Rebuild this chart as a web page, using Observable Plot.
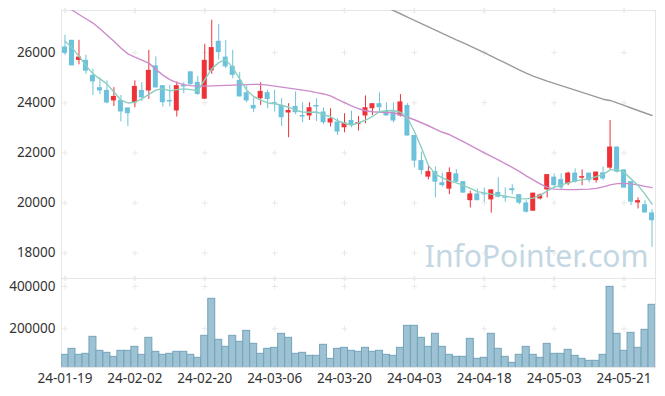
<!DOCTYPE html>
<html>
<head>
<meta charset="utf-8">
<script src="https://cdn.jsdelivr.net/npm/d3@7"></script>
<script src="https://cdn.jsdelivr.net/npm/@observablehq/plot@0.6"></script>
<style>
  html, body { margin: 0; padding: 0; background: #fff; }
  #chart { width: 665px; height: 396px; overflow: hidden; }
  #chart svg { display: block; }
</style>
</head>
<body>
<div id="chart"></div>
<script>
const dates = ["24-01-19","24-01-22","24-01-23","24-01-24","24-01-25","24-01-26","24-01-29","24-01-30","24-01-31","24-02-01",
"24-02-02","24-02-05","24-02-06","24-02-07","24-02-08","24-02-13","24-02-14","24-02-15","24-02-16","24-02-19",
"24-02-20","24-02-21","24-02-22","24-02-23","24-02-26","24-02-27","24-02-28","24-02-29","24-03-04","24-03-05",
"24-03-06","24-03-07","24-03-08","24-03-11","24-03-12","24-03-13","24-03-14","24-03-15","24-03-18","24-03-19",
"24-03-20","24-03-21","24-03-22","24-03-25","24-03-26","24-03-27","24-03-28","24-03-29","24-04-01","24-04-02",
"24-04-03","24-04-04","24-04-05","24-04-08","24-04-09","24-04-11","24-04-12","24-04-15","24-04-16","24-04-17",
"24-04-18","24-04-19","24-04-22","24-04-23","24-04-24","24-04-25","24-04-26","24-04-29","24-04-30","24-05-02",
"24-05-03","24-05-07","24-05-08","24-05-09","24-05-10","24-05-13","24-05-14","24-05-16","24-05-17","24-05-20",
"24-05-21","24-05-22","24-05-23","24-05-24","24-05-27"];

const opens = [26220,26490,25690,25690,25090,24600,24490,24070,24090,23790,
24000,24490,24470,25470,24680,24090,23670,24690,25230,24810,
24140,25270,26450,25820,25450,24890,24400,23890,24160,24400,
24000,23890,23590,23850,23490,23470,23890,23630,23190,23230,
23000,23290,23130,23470,23760,23960,23650,23630,23470,23890,
22690,21690,21030,21250,20810,20550,21160,20850,20090,20360,
20360,20120,20420,20250,20570,20330,20000,19670,20160,20520,
21030,20930,20760,21190,20990,21190,20890,21200,21390,22230,
21320,20850,20000,19930,19600];

const highs = [26690,26490,26490,25900,25340,24990,24870,24600,24290,23790,
24870,24800,26090,25830,24680,24690,24830,24790,25250,25050,
26330,27290,27130,26490,26090,25200,24670,24190,24800,24490,
24490,24160,23960,24430,24000,24000,24160,23790,23760,23360,
23560,23660,23450,24270,23960,24390,23990,23990,24330,23960,
22690,22030,21450,21430,21190,21400,21330,20850,20470,20560,
20600,20520,21000,20600,20730,20330,20090,20390,20360,21130,
21160,21160,21230,21360,21320,21190,21230,21430,23290,22230,
21320,20850,20200,20090,19730];

const lows = [25900,25470,25510,25130,24290,24320,23950,23850,23230,23050,
23800,24050,24130,24590,23830,23830,23430,24360,24690,24290,
24140,25130,25710,25360,24960,24230,24000,23600,23890,23760,
23630,23050,22600,23520,23200,23290,23250,23120,23030,22690,
22800,23000,22870,23160,23490,23630,23470,23200,23430,22670,
21400,21120,20920,20200,20630,20330,20800,20390,19800,20090,
20030,19590,20200,20030,20330,19930,19590,19670,20120,20200,
20600,20490,20690,20790,20690,20790,20790,20890,21320,21190,
20590,19890,19760,19600,18230];

const closes = [25970,25470,25820,25260,24830,24470,23990,24250,23630,23560,
24650,24190,25290,24590,24000,24030,24680,24630,24730,24330,
25690,26200,26000,25430,25090,24230,24070,23750,24450,24130,
23950,23400,23690,23600,23430,23800,23830,23200,23360,22830,
23190,23090,23210,23800,23960,23800,23470,23270,24030,22670,
21670,21290,21250,20830,20690,21210,20830,20390,20360,20090,
20320,20520,20230,20190,20490,19990,19630,20390,20320,21130,
20690,20600,21190,20830,21050,20890,21230,20960,22230,21230,
20590,20030,20090,19600,19290];

const volumes = [76920,105290,76920,81650,162020,95830,86380,67460,95830,95830,
114740,76920,157300,91100,76920,81650,91100,91100,76920,62740,
166750,341690,147840,114740,166750,138380,190390,128930,81650,105290,
110020,176210,157300,81650,86380,72190,72190,124200,58010,105290,
110020,95830,91100,110020,91100,95830,76920,72190,110020,214030,
214030,157300,114740,176210,114740,76920,67460,67460,152570,58010,
62740,176210,105290,67460,39100,76920,114740,76920,62740,128930,
81650,81650,100560,72190,58010,48550,48550,76920,398420,176210,
95830,180940,110020,195120,313320];

const ma5 = [26450,26200,25850,25480,25150,24950,24750,24430,24100,23990,
24020,24150,24330,24500,24560,24470,24520,24550,24520,24470,
24920,25350,25600,25720,25400,24950,24500,24250,24100,23990,
23960,23900,23820,23700,23630,23620,23630,23520,23440,23280,
23180,23100,23200,23300,23450,23640,23680,23690,23620,23400,
22850,22200,21500,21150,21000,20880,20800,20700,20580,20450,
20400,20350,20320,20270,20220,20170,20160,20190,20300,20480,
20620,20720,20800,20880,20920,20960,21050,21130,21320,21330,
21220,20960,20700,20350,19950];

const ma20 = [27900,27700,27520,27350,27180,26950,26700,26450,26180,25950,
25820,25700,25580,25330,25100,24920,24800,24720,24680,24660,
24660,24670,24680,24690,24700,24710,24720,24730,24730,24700,
24660,24620,24580,24540,24500,24460,24400,24350,24270,24130,
24000,23870,23760,23680,23640,23620,23610,23600,23520,23420,
23320,23200,23080,22950,22820,22730,22590,22450,22300,22150,
22000,21860,21720,21570,21420,21260,21080,20920,20760,20620,
20550,20540,20530,20530,20540,20550,20580,20640,20720,20770,
20780,20760,20720,20660,20610];

const ma60 = [null,null,null,null,null,null,null,null,null,null,
null,null,null,null,null,null,null,null,null,null,
null,null,null,null,null,null,null,null,null,null,
null,null,null,null,null,null,null,null,null,null,
null,null,null,null,null,null,27810,27680,27550,27420,
27290,27160,27030,26900,26770,26640,26510,26390,26260,26130,
26000,25860,25720,25590,25450,25310,25180,25060,24960,24860,
24770,24680,24590,24500,24410,24320,24230,24140,24090,23990,
23890,23790,23690,23590,23490];

const xTicks = ["24-01-19","24-02-02","24-02-20","24-03-06","24-03-20","24-04-03","24-04-18","24-05-03","24-05-21"];
const priceTicks = [18000, 20000, 22000, 24000, 26000];
const volumeTicks = [200000, 400000];
const watermark = ["InfoPointer.com"];

const UP = "#ee3237", DOWN = "#6cc2da";
const rows = dates.map((d, i) => ({
  date: d, open: opens[i], high: highs[i], low: lows[i], close: closes[i],
  vol: volumes[i], ma5: ma5[i], ma20: ma20[i], ma60: ma60[i]
}));
const candleColor = d => d.close >= d.open ? UP : DOWN;
const priceGrid = xTicks.flatMap(x => priceTicks.map(y => ({x, y})));
const volGrid = xTicks.flatMap(x => volumeTicks.map(y => ({x, y})));

const font = {fontFamily: "'Noto Sans', 'Open Sans', sans-serif", fontSize: "13.5px", color: "#333", background: "#fff", overflow: "visible"};
const X = {type: "band", domain: dates, padding: 0, range: [61, 655]};
const GRID = "#e9e9e9";

const price = Plot.plot({
  width: 665, height: 278, marginTop: 10, marginBottom: 0, marginLeft: 61, marginRight: 10,
  style: font,
  x: {...X, axis: null},
  y: {domain: [16984, 27680], ticks: priceTicks, tickSize: 0, tickPadding: 6, tickFormat: d3.format("d"), label: null},
  marks: [
    Plot.frame({stroke: "#e6e6e6"}),
    Plot.dot(priceGrid, {x: "x", y: "y", symbol: "plus", r: 2, stroke: GRID, strokeWidth: 1}),
    Plot.dot(xTicks, {x: d => d, frameAnchor: "top", symbol: "plus", r: 2, stroke: GRID}),
    Plot.dot(xTicks, {x: d => d, frameAnchor: "bottom", symbol: "plus", r: 2, stroke: GRID}),
    Plot.text(watermark, {text: d => d, frameAnchor: "bottom-right", dx: -7, dy: -12, textAnchor: "end", lineAnchor: "bottom", fill: "#c3d7e3", fontSize: 30}),
    Plot.ruleX(rows, {x: "date", y1: "low", y2: "high", stroke: candleColor, strokeWidth: 1, clip: true}),
    Plot.barY(rows, {x: "date", y1: "open", y2: "close", fill: candleColor, insetLeft: 1, insetRight: 1, clip: true}),
    Plot.line(rows, {x: "date", y: "ma60", stroke: "#9a9a9a", strokeWidth: 1.4, clip: true}),
    Plot.line(rows, {x: "date", y: "ma20", stroke: "#cc8ccb", strokeWidth: 1.4, clip: true}),
    Plot.line(rows, {x: "date", y: "ma5", stroke: "#8ccfc0", strokeWidth: 1.4, clip: true})
  ]
});

const volume = Plot.plot({
  width: 665, height: 118, marginTop: 0, marginBottom: 29, marginLeft: 61, marginRight: 10,
  style: font,
  x: {...X, ticks: xTicks, tickSize: 0, tickPadding: 6, label: null},
  y: {domain: [17000, 437800], ticks: volumeTicks, tickSize: 0, tickPadding: 6, tickFormat: d3.format("d"), label: null},
  marks: [
    Plot.frame({stroke: "#e6e6e6"}),
    Plot.dot(volGrid, {x: "x", y: "y", symbol: "plus", r: 2, stroke: GRID, strokeWidth: 1}),
    Plot.barY(rows, {x: "date", y: "vol", fill: "#9cc2d3", stroke: "#74a3b9", strokeWidth: 1, clip: true})
  ]
});

const root = document.getElementById("chart");
root.appendChild(price);
root.appendChild(volume);
</script>
</body>
</html>
